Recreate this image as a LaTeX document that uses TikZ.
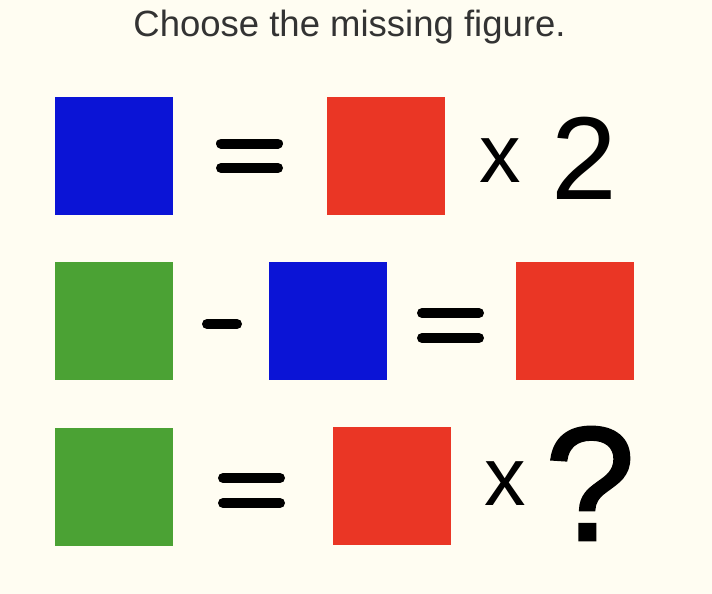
\documentclass[tikz,border=0pt]{standalone}
\usepackage{fontspec}
\setmainfont{Liberation Sans}
\newfontfamily\qfont[FakeBold=1.6]{Liberation Sans}
\definecolor{bgc}{RGB}{255,253,242}
\definecolor{sqblue}{RGB}{11,20,214}
\definecolor{sqred}{RGB}{234,54,37}
\definecolor{sqgreen}{RGB}{75,162,52}
\definecolor{titlec}{RGB}{51,51,51}
\begin{document}
\begin{tikzpicture}[x=1pt,y=-1pt,
  sq/.style={minimum width=118pt,minimum height=118pt,inner sep=0pt,draw=none},
  bar/.style={line width=10pt,line cap=round,black},
  sym/.style={anchor=base,inner sep=0pt,text=black}]
\fill[bgc] (0,0) rectangle (712,594);
\useasboundingbox (0,0) rectangle (712,594);
\node[anchor=base,inner sep=0pt,text=titlec,font=\fontsize{36.5}{42}\selectfont] (title) at (349.5,37) {Choose the missing figure.};
% row 1
\node[sq,fill=sqblue] (b1) at (114,156) {};
\node[sq,fill=sqred] (r1) at (386,156) {};
\draw[bar] (221,143.5) -- (278,143.5);
\draw[bar] (221,168) -- (278,168);
\node[sym,font=\fontsize{83}{90}\selectfont] (x1) at (500,182) {x};
\node[sym,font=\fontsize{118}{130}\selectfont] (two) at (584.5,199) {2};
% row 2
\node[sq,fill=sqgreen] (g2) at (114,321) {};
\draw[bar] (207,324) -- (237,324);
\node[sq,fill=sqblue] (b2) at (327.5,321) {};
\draw[bar] (422,313) -- (479,313);
\draw[bar] (422,338) -- (479,338);
\node[sq,fill=sqred] (r2) at (574.5,321) {};
% row 3
\node[sq,fill=sqgreen] (g3) at (114,487) {};
\draw[bar] (223,478) -- (280,478);
\draw[bar] (223,503) -- (280,503);
\node[sq,fill=sqred] (r3) at (392,486) {};
\node[sym,font=\fontsize{83}{90}\selectfont] (x3) at (505,505) {x};
\node[sym,font=\qfont\fontsize{162}{170}\selectfont] (q) at (590,540) {?};
\end{tikzpicture}
\end{document}
